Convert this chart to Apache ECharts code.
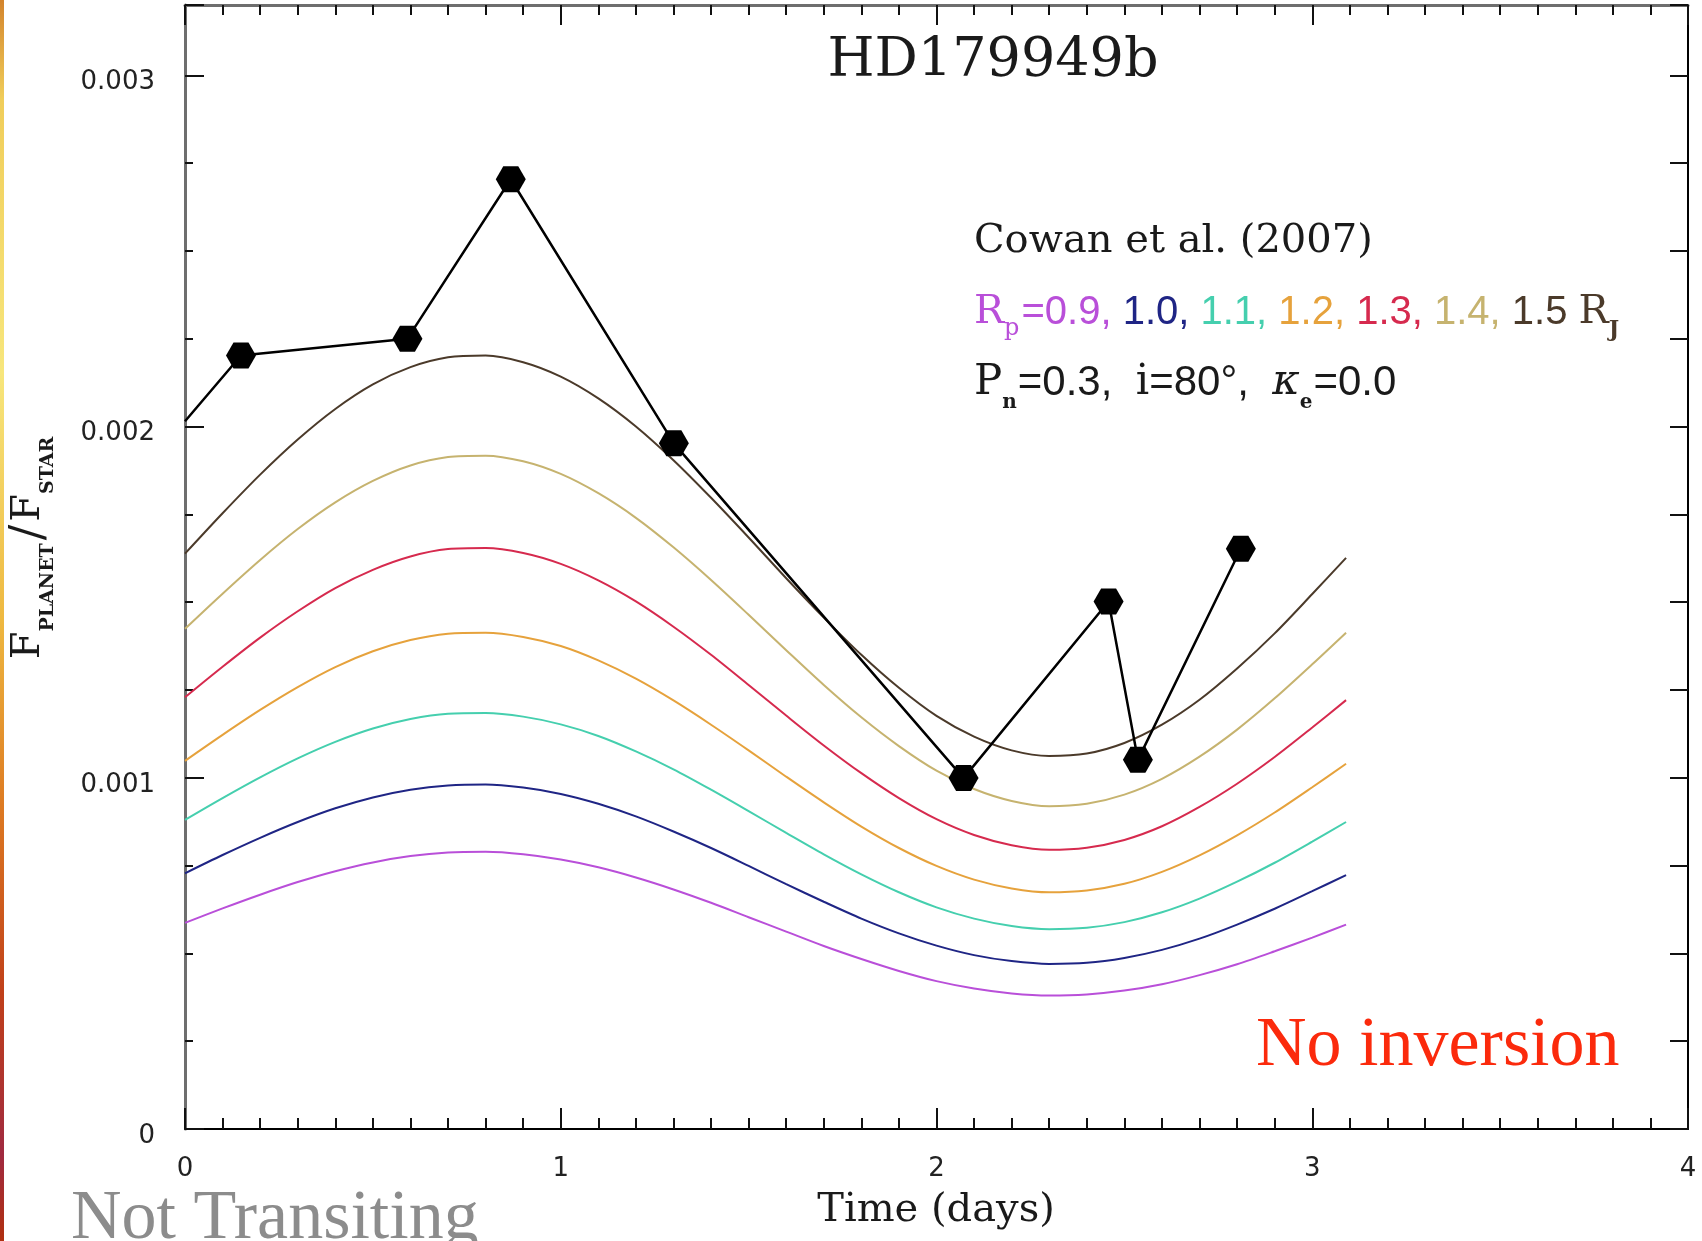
<!DOCTYPE html>
<html>
<head>
<meta charset="utf-8">
<title>HD179949b</title>
<script src="https://cdn.jsdelivr.net/npm/echarts@6/dist/echarts.min.js"></script>
<style>
  html, body { margin: 0; padding: 0; background: #ffffff; }
  #chart { width: 1702px; height: 1241px; }
</style>
</head>
<body>
<div id="chart"></div>
<script>
// Flux ratios are kept in units of 1e-3; the y axis labels convert back.
// Time samples (days) for the model phase curves.
const TIME = [0, 0.1, 0.2, 0.3, 0.4, 0.5, 0.6, 0.7, 0.8, 0.9, 1.0, 1.1, 1.2, 1.3, 1.4, 1.5,
              1.6, 1.7, 1.8, 1.9, 2.0, 2.1, 2.2, 2.3, 2.4, 2.5, 2.6, 2.7, 2.8, 2.9, 3.0, 3.09];

// Model curves, one per planet radius (R_J).
const RADII = ['0.9', '1.0', '1.1', '1.2', '1.3', '1.4', '1.5'];
const FLUX_R09 = [0.587, 0.628, 0.667, 0.703, 0.734, 0.759, 0.777, 0.787, 0.789, 0.782, 0.767, 0.745, 0.716, 0.682, 0.644, 0.603,
                  0.562, 0.521, 0.484, 0.450, 0.421, 0.400, 0.386, 0.380, 0.383, 0.394, 0.412, 0.438, 0.469, 0.506, 0.545, 0.582];
const FLUX_R10 = [0.728, 0.780, 0.829, 0.874, 0.913, 0.944, 0.966, 0.978, 0.981, 0.972, 0.954, 0.926, 0.890, 0.847, 0.800, 0.749,
                  0.697, 0.647, 0.599, 0.557, 0.522, 0.495, 0.478, 0.470, 0.473, 0.487, 0.510, 0.542, 0.582, 0.627, 0.677, 0.723];
const FLUX_R11 = [0.880, 0.942, 1.001, 1.055, 1.102, 1.140, 1.167, 1.182, 1.184, 1.174, 1.152, 1.119, 1.075, 1.024, 0.966, 0.905,
                  0.843, 0.782, 0.725, 0.674, 0.631, 0.599, 0.578, 0.569, 0.573, 0.589, 0.617, 0.656, 0.704, 0.758, 0.818, 0.874];
const FLUX_R12 = [1.048, 1.122, 1.193, 1.258, 1.315, 1.360, 1.392, 1.410, 1.413, 1.401, 1.375, 1.334, 1.282, 1.220, 1.151, 1.078,
                  1.003, 0.930, 0.861, 0.800, 0.749, 0.710, 0.685, 0.674, 0.679, 0.698, 0.732, 0.779, 0.836, 0.901, 0.973, 1.040];
const FLUX_R13 = [1.229, 1.316, 1.399, 1.474, 1.540, 1.592, 1.630, 1.651, 1.654, 1.640, 1.609, 1.562, 1.502, 1.430, 1.350, 1.264,
                  1.177, 1.092, 1.013, 0.942, 0.882, 0.837, 0.808, 0.795, 0.801, 0.823, 0.862, 0.917, 0.983, 1.059, 1.143, 1.221];
const FLUX_R14 = [1.424, 1.524, 1.620, 1.708, 1.784, 1.845, 1.889, 1.913, 1.917, 1.901, 1.865, 1.810, 1.740, 1.656, 1.563, 1.464,
                  1.363, 1.264, 1.172, 1.090, 1.020, 0.968, 0.934, 0.919, 0.926, 0.952, 0.997, 1.060, 1.137, 1.226, 1.323, 1.413];
const FLUX_R15 = [1.638, 1.753, 1.863, 1.963, 2.050, 2.120, 2.169, 2.197, 2.202, 2.183, 2.142, 2.080, 2.000, 1.904, 1.797, 1.684,
                  1.568, 1.456, 1.350, 1.256, 1.176, 1.117, 1.078, 1.062, 1.069, 1.099, 1.151, 1.222, 1.311, 1.411, 1.523, 1.626];
const CURVE_COLORS = ['#b94fd9', '#1f2585', '#45cfae', '#e6a23c', '#d62a4e', '#c6b36f', '#4b3a2a'];

// Observed photometry points.
const OBS_TIME = [0.149, 0.592, 0.867, 1.301, 2.072, 2.458, 2.536, 2.810];
const OBS_FLUX = [2.202, 2.250, 2.704, 1.952, 0.999, 1.502, 1.051, 1.652];
// The connecting line enters the frame at t = 0 from an earlier point.
const OBS_LINE_START = [0, 2.015];

// Axis ranges
const X_MIN = 0, X_MAX = 4;
const Y_MIN = 0, Y_MAX = 3.2;

const HEXAGON = 'path://M0,433L250,0L750,0L1000,433L750,866L250,866Z';
const SERIF = '"DejaVu Serif", serif';
const SANS = '"DejaVu Sans", sans-serif';
const HELV = '"Liberation Sans", Arial, sans-serif';
const TIMES = '"Liberation Serif", "Times New Roman", serif';

const curves = [FLUX_R09, FLUX_R10, FLUX_R11, FLUX_R12, FLUX_R13, FLUX_R14, FLUX_R15];

const series = curves.map((vals, i) => ({
  type: 'line',
  name: 'Rp = ' + RADII[i],
  data: TIME.map((t, j) => [t, vals[j]]),
  smooth: 0.3,
  symbol: 'none',
  showSymbol: false,
  silent: true,
  lineStyle: { width: 2, color: CURVE_COLORS[i] },
  itemStyle: { color: CURVE_COLORS[i] },
  z: 2
}));

series.push({
  type: 'line',
  name: 'observed',
  data: [{ value: OBS_LINE_START, symbol: 'none' }].concat(OBS_TIME.map((t, j) => [t, OBS_FLUX[j]])),
  symbol: HEXAGON,
  symbolSize: [30, 26],
  showSymbol: true,
  silent: true,
  itemStyle: { color: '#000000' },
  lineStyle: { width: 2.5, color: '#000000' },
  z: 5
});

const tickStyle = { color: '#111111', width: 2 };

const xAxisBase = {
  type: 'value', min: X_MIN, max: X_MAX, interval: 1,
  splitLine: { show: false }, minorSplitLine: { show: false },
  axisTick: { show: true, inside: true, length: 21, lineStyle: tickStyle },
  minorTick: { show: true, splitNumber: 10, length: 11, lineStyle: tickStyle }
};

const yFormatter = v => {
  const k = Math.round(v);
  if (Math.abs(v - k) > 1e-6 || k > 3) return '';
  return k === 0 ? '0' : (k / 1000).toFixed(3);
};

// rich-text token helpers (zrender text tokens take "fill")
const tok = (family, size, color, pad, extra) => Object.assign({
  fontFamily: family, fontSize: size, fill: color, color: color,
  verticalAlign: 'bottom', padding: pad
}, extra || {});
const mainTok = (family, size, color, extra) => tok(family, size, color, [0, 0, 10, 0], extra);

const option = {
  animation: false,
  backgroundColor: '#ffffff',
  grid: { left: 185, right: 14, top: 5, bottom: 112, containLabel: false, outerBoundsMode: 'none' },
  xAxis: [
    Object.assign({}, xAxisBase, {
      position: 'bottom',
      axisLine: { show: true, onZero: false, lineStyle: { color: '#000000', width: 2 } },
      axisLabel: { show: true, margin: 27, fontFamily: SANS, fontSize: 26, color: '#222222' }
    }),
    Object.assign({}, xAxisBase, {
      position: 'top',
      axisTick: { show: true, inside: true, length: 20, lineStyle: tickStyle },
      minorTick: { show: true, splitNumber: 10, length: 10, lineStyle: tickStyle },
      axisLine: { show: true, onZero: false, lineStyle: { color: '#6e6e6e', width: 3 } },
      axisLabel: { show: false }
    })
  ],
  yAxis: [
    {
      type: 'value', position: 'left', min: Y_MIN, max: Y_MAX, interval: 0.25,
      splitLine: { show: false },
      axisLine: { show: true, onZero: false, lineStyle: { color: '#6e6e6e', width: 3 } },
      axisTick: { show: true, inside: true, length: 8, lineStyle: tickStyle },
      axisLabel: { show: true, margin: 30, verticalAlign: 'top', lineHeight: 14,
        fontFamily: SANS, fontSize: 26, color: '#222222', formatter: yFormatter }
    },
    {
      type: 'value', position: 'left', min: Y_MIN, max: Y_MAX, interval: 1,
      splitLine: { show: false },
      axisLine: { show: false },
      axisTick: { show: true, inside: true, length: 19, lineStyle: tickStyle },
      axisLabel: { show: false }
    },
    {
      type: 'value', position: 'right', min: Y_MIN, max: Y_MAX, interval: 0.25,
      splitLine: { show: false },
      axisLine: { show: true, onZero: false, lineStyle: { color: '#000000', width: 2 } },
      axisTick: { show: true, inside: true, length: 18, lineStyle: tickStyle },
      axisLabel: { show: false }
    }
  ],
  series: series,
  graphic: [
    // slide edge strip
    {
      type: 'rect', left: 0, top: 0, silent: true,
      shape: { x: 0, y: 0, width: 4, height: 1241 },
      style: {
        fill: new echarts.graphic.LinearGradient(0, 0, 0, 1, [
          { offset: 0, color: '#d3842c' },
          { offset: 0.08, color: '#f0cd5a' },
          { offset: 0.3, color: '#f7e67c' },
          { offset: 0.5, color: '#eeb840' },
          { offset: 0.65, color: '#dd7a22' },
          { offset: 0.8, color: '#c0401a' },
          { offset: 0.93, color: '#a02a40' },
          { offset: 1, color: '#b03010' }
        ])
      }
    },
    // plot title
    {
      type: 'text', x: 993, y: 62, silent: true,
      style: { text: 'HD179949b', font: '54px ' + SERIF, fill: '#1a1a1a',
        align: 'center', verticalAlign: 'middle', textAlign: 'center', textVerticalAlign: 'middle' }
    },
    // model reference
    {
      type: 'text', x: 974, y: 242, silent: true,
      style: { text: 'Cowan et al. (2007)', font: '40px ' + SERIF, fill: '#1a1a1a',
        align: 'left', verticalAlign: 'middle', textAlign: 'left', textVerticalAlign: 'middle' }
    },
    // radius key
    {
      type: 'text', x: 974, y: 318, silent: true,
      style: {
        text: '{rv|R}{sv|p}{v|=0.9, }{b|1.0, }{t|1.1, }{o|1.2, }{c|1.3, }{k|1.4, }{br|1.5 }{rb|R}{sb|J}',
        fill: '#1a1a1a',
        align: 'left', verticalAlign: 'middle', textAlign: 'left', textVerticalAlign: 'middle',
        rich: {
          rv: mainTok(SERIF, 40, CURVE_COLORS[0]),
          sv: tok(SERIF, 24, CURVE_COLORS[0], [0, 2, 2, 0]),
          v: mainTok(HELV, 40, CURVE_COLORS[0]),
          b: mainTok(HELV, 40, CURVE_COLORS[1]),
          t: mainTok(HELV, 40, CURVE_COLORS[2]),
          o: mainTok(HELV, 40, CURVE_COLORS[3]),
          c: mainTok(HELV, 40, CURVE_COLORS[4]),
          k: mainTok(HELV, 40, CURVE_COLORS[5]),
          br: mainTok(HELV, 40, CURVE_COLORS[6]),
          rb: mainTok(SERIF, 40, CURVE_COLORS[6]),
          sb: tok(SERIF, 22, CURVE_COLORS[6], [0, 0, 2, 0], { fontWeight: 'bold' })
        }
      }
    },
    // model parameters
    {
      type: 'text', x: 974, y: 388, silent: true,
      style: {
        text: '{m|P}{s|n}{d|=0.3,  }{m|i}{d|=80°,  }{g|κ}{s|e}{d|=0.0}',
        fill: '#1a1a1a',
        align: 'left', verticalAlign: 'middle', textAlign: 'left', textVerticalAlign: 'middle',
        rich: {
          m: mainTok(SERIF, 42, '#1a1a1a'),
          g: mainTok(SERIF, 42, '#1a1a1a', { fontStyle: 'italic' }),
          s: tok(SERIF, 20, '#1a1a1a', [0, 1, 1, 0], { fontWeight: 'bold' }),
          d: mainTok(HELV, 42, '#1a1a1a')
        }
      }
    },
    // y axis title
    {
      type: 'text', x: 33, y: 548, rotation: Math.PI / 2, silent: true,
      style: {
        text: '{F|F}{s|PLANET}{sl|/}{F|F}{s|STAR}',
        fill: '#1a1a1a',
        align: 'center', verticalAlign: 'middle', textAlign: 'center', textVerticalAlign: 'middle',
        rich: {
          F: tok(SERIF, 40, '#1a1a1a', [0, 0, 10, 0]),
          sl: tok(SERIF, 46, '#1a1a1a', [0, 3, 6, 3]),
          s: tok(SERIF, 19, '#1a1a1a', [0, 0, 1, 0], { fontWeight: 'bold' })
        }
      }
    },
    // x axis title
    {
      type: 'text', x: 936, y: 1211, silent: true,
      style: { text: 'Time (days)', font: '40px ' + SERIF, fill: '#1a1a1a',
        align: 'center', verticalAlign: 'middle', textAlign: 'center', textVerticalAlign: 'middle' }
    },
    // annotations
    {
      type: 'text', x: 1256, y: 1047, silent: true,
      style: { text: 'No inversion', font: '70px ' + TIMES, fill: '#fb2a0c',
        align: 'left', verticalAlign: 'middle', textAlign: 'left', textVerticalAlign: 'middle' }
    },
    {
      type: 'text', x: 71, y: 1220, silent: true,
      style: { text: 'Not Transiting', font: '70px ' + TIMES, fill: '#8c8c8c',
        align: 'left', verticalAlign: 'middle', textAlign: 'left', textVerticalAlign: 'middle' }
    }
  ]
};

const chart = echarts.init(document.getElementById('chart'), null, { renderer: 'canvas' });
chart.setOption(option);
</script>
</body>
</html>
